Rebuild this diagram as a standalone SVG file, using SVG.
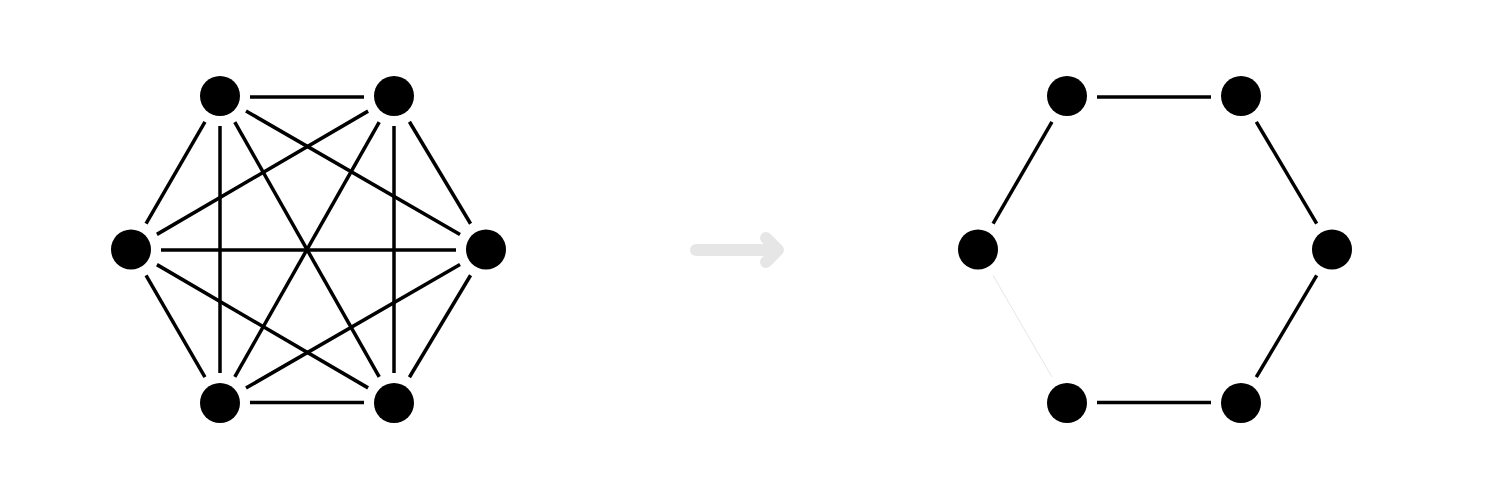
<svg xmlns="http://www.w3.org/2000/svg" width="1500" height="500" viewBox="0 0 1500 500">
<style>
.node{fill:#000}
.edge{stroke:#000;stroke-width:3.5;fill:none}
.faint{stroke:#e6e6e6;stroke-width:1;fill:none}
.arrow{stroke:#e6e6e6;stroke-width:12;fill:none;stroke-linecap:round;stroke-linejoin:round}
</style>
<rect width="1500" height="500" fill="#fff"/>
<g id="connectors">
<g id="left-edges">
<line class="edge" x1="250" y1="97" x2="364" y2="97"/>
<line class="edge" x1="204.95" y1="121.96" x2="146.05" y2="223.54"/>
<line class="edge" x1="245.98" y1="111" x2="460.02" y2="234.5"/>
<line class="edge" x1="220" y1="126" x2="220" y2="373"/>
<line class="edge" x1="234.79" y1="122.1" x2="379.21" y2="376.9"/>
<line class="edge" x1="368.09" y1="111.12" x2="156.91" y2="234.38"/>
<line class="edge" x1="409.42" y1="121.73" x2="470.58" y2="223.77"/>
<line class="edge" x1="379.21" y1="122.1" x2="234.79" y2="376.9"/>
<line class="edge" x1="394" y1="126" x2="394" y2="373"/>
<line class="edge" x1="161" y1="250" x2="456" y2="250"/>
<line class="edge" x1="146.05" y1="275.46" x2="204.95" y2="377.04"/>
<line class="edge" x1="156.91" y1="264.62" x2="368.09" y2="387.88"/>
<line class="edge" x1="460.02" y1="264.5" x2="245.98" y2="388"/>
<line class="edge" x1="470.58" y1="275.23" x2="409.42" y2="377.27"/>
<line class="edge" x1="250" y1="402.5" x2="364" y2="402.5"/>
</g>
<g id="transform-arrow">
<line class="arrow" x1="696" y1="250" x2="776" y2="250"/>
<polyline class="arrow" points="766,238 778,250 766,262"/>
</g>
<g id="right-edges">
<line class="edge" x1="1097" y1="97" x2="1211" y2="97"/>
<line class="edge" x1="1256.3" y1="121.8" x2="1316.7" y2="223.7"/>
<line class="edge" x1="1316.7" y1="275.3" x2="1256.3" y2="377.2"/>
<line class="edge" x1="1211" y1="402.5" x2="1097" y2="402.5"/>
<line class="faint" x1="1051.95" y1="377.04" x2="993.05" y2="275.46"/>
<line class="edge" x1="993.05" y1="223.54" x2="1051.95" y2="121.96"/>
</g>
</g>
<g id="nodeA"><circle class="node" cx="220" cy="96" r="20"/></g>
<g id="nodeB"><circle class="node" cx="394" cy="96" r="20"/></g>
<g id="nodeC"><circle class="node" cx="131" cy="249.5" r="20"/></g>
<g id="nodeD"><circle class="node" cx="486" cy="249.5" r="20"/></g>
<g id="nodeE"><circle class="node" cx="220" cy="403" r="20"/></g>
<g id="nodeF"><circle class="node" cx="394" cy="403" r="20"/></g>
<g id="nodeP"><circle class="node" cx="1067" cy="96" r="20"/></g>
<g id="nodeQ"><circle class="node" cx="1241" cy="96" r="20"/></g>
<g id="nodeR"><circle class="node" cx="978" cy="249.5" r="20"/></g>
<g id="nodeS"><circle class="node" cx="1332" cy="249.5" r="20"/></g>
<g id="nodeT"><circle class="node" cx="1067" cy="403" r="20"/></g>
<g id="nodeU"><circle class="node" cx="1241" cy="403" r="20"/></g>
</svg>
